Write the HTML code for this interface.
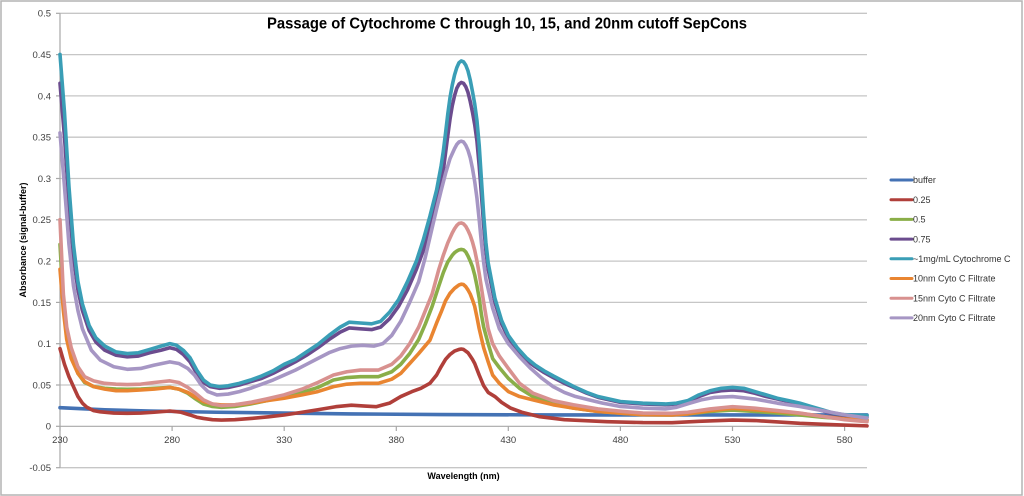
<!DOCTYPE html>
<html><head><meta charset="utf-8"><style>
html,body{margin:0;padding:0;background:#fff;}
svg{display:block;}
text{font-family:"Liberation Sans",Arial,sans-serif;}
</style></head><body>
<svg width="1024" height="496" viewBox="0 0 1024 496" xmlns="http://www.w3.org/2000/svg">
<rect x="0" y="0" width="1024" height="496" fill="#fff"/>
<rect x="1" y="1" width="1021" height="494" fill="none" stroke="#b4b4b4" stroke-width="1.5"/>

<!-- gridlines -->
<g stroke="#c6c6c6" stroke-width="1.3">
<line x1="60" y1="13.3" x2="867" y2="13.3"/>
<line x1="60" y1="54.6" x2="867" y2="54.6"/>
<line x1="60" y1="95.9" x2="867" y2="95.9"/>
<line x1="60" y1="137.2" x2="867" y2="137.2"/>
<line x1="60" y1="178.5" x2="867" y2="178.5"/>
<line x1="60" y1="219.8" x2="867" y2="219.8"/>
<line x1="60" y1="261.1" x2="867" y2="261.1"/>
<line x1="60" y1="302.4" x2="867" y2="302.4"/>
<line x1="60" y1="343.7" x2="867" y2="343.7"/>
<line x1="60" y1="385.0" x2="867" y2="385.0"/>
<line x1="60" y1="467.7" x2="867" y2="467.7"/>
</g>
<!-- axes -->
<g stroke="#a8a8a8" stroke-width="1.2">
<line x1="60" y1="13.3" x2="60" y2="467.7"/>
<line x1="60" y1="426.3" x2="867" y2="426.3"/>
<line x1="56" y1="13.3" x2="60" y2="13.3"/>
<line x1="56" y1="54.6" x2="60" y2="54.6"/>
<line x1="56" y1="95.9" x2="60" y2="95.9"/>
<line x1="56" y1="137.2" x2="60" y2="137.2"/>
<line x1="56" y1="178.5" x2="60" y2="178.5"/>
<line x1="56" y1="219.8" x2="60" y2="219.8"/>
<line x1="56" y1="261.1" x2="60" y2="261.1"/>
<line x1="56" y1="302.4" x2="60" y2="302.4"/>
<line x1="56" y1="343.7" x2="60" y2="343.7"/>
<line x1="56" y1="385.0" x2="60" y2="385.0"/>
<line x1="56" y1="426.3" x2="60" y2="426.3"/>
<line x1="56" y1="467.7" x2="60" y2="467.7"/>
<line x1="60" y1="426.3" x2="60" y2="431"/>
<line x1="172.1" y1="426.3" x2="172.1" y2="431"/>
<line x1="284.2" y1="426.3" x2="284.2" y2="431"/>
<line x1="396.3" y1="426.3" x2="396.3" y2="431"/>
<line x1="508.3" y1="426.3" x2="508.3" y2="431"/>
<line x1="620.4" y1="426.3" x2="620.4" y2="431"/>
<line x1="732.5" y1="426.3" x2="732.5" y2="431"/>
<line x1="844.6" y1="426.3" x2="844.6" y2="431"/>
</g>

<!-- y tick labels -->
<g font-size="9.5" fill="#404040" text-anchor="end">
<text x="51" y="16.7">0.5</text>
<text x="51" y="58">0.45</text>
<text x="51" y="99.3">0.4</text>
<text x="51" y="140.6">0.35</text>
<text x="51" y="181.9">0.3</text>
<text x="51" y="223.2">0.25</text>
<text x="51" y="264.5">0.2</text>
<text x="51" y="305.8">0.15</text>
<text x="51" y="347.1">0.1</text>
<text x="51" y="388.4">0.05</text>
<text x="51" y="429.7">0</text>
<text x="51" y="471.1">-0.05</text>
</g>
<!-- x tick labels -->
<g font-size="9.5" fill="#404040" text-anchor="middle">
<text x="60" y="443">230</text>
<text x="172.1" y="443">280</text>
<text x="284.2" y="443">330</text>
<text x="396.3" y="443">380</text>
<text x="508.3" y="443">430</text>
<text x="620.4" y="443">480</text>
<text x="732.5" y="443">530</text>
<text x="844.6" y="443">580</text>
</g>

<!-- titles -->
<text x="507" y="28.5" font-size="16" font-weight="bold" fill="#000" text-anchor="middle" textLength="480" lengthAdjust="spacingAndGlyphs">Passage of Cytochrome C through 10, 15, and 20nm cutoff SepCons</text>
<text x="463.5" y="479" font-size="9" font-weight="bold" fill="#000" text-anchor="middle">Wavelength (nm)</text>
<text transform="translate(26,240) rotate(-90)" font-size="9" font-weight="bold" fill="#000" text-anchor="middle">Absorbance (signal-buffer)</text>

<!-- series -->
<g transform="translate(60,426.3) scale(2.2417,-826.5) translate(-230,0)" fill="none" stroke-width="3.6" stroke-linejoin="round" stroke-linecap="round">
<polyline vector-effect="non-scaling-stroke" stroke="#4472B4" points="230,0.0225 250,0.020 270,0.0185 300,0.017 330,0.016 360,0.015 400,0.0142 450,0.0138 590,0.0137"/>
<polyline vector-effect="non-scaling-stroke" stroke="#B03F3A" points="230,0.094 232,0.075 234,0.06 236,0.048 238,0.036 240,0.028 242,0.023 245,0.019 248,0.0175 254,0.016 260,0.0157 266,0.016 272,0.017 279,0.0185 284,0.017 288,0.0137 291,0.011 294,0.0095 298,0.008 302,0.0076 308,0.008 316,0.0097 323,0.0115 330,0.0137 338,0.017 345,0.02 353,0.0237 360,0.0255 366,0.0245 371,0.0237 377,0.028 382,0.036 387,0.042 391,0.046 395,0.052 398,0.062 400,0.072 402,0.081 404,0.087 406,0.091 408,0.093 409,0.0935 410,0.093 412,0.089 413,0.085 414,0.081 415,0.076 417,0.062 419,0.049 421,0.041 424,0.036 427,0.029 431,0.022 436,0.017 444,0.0116 455,0.008 474,0.0056 490,0.0045 503,0.0044 515,0.006 530,0.0076 540,0.007 560,0.0036 575,0.002 590,0.0005"/>
<polyline vector-effect="non-scaling-stroke" stroke="#8AAE48" points="230,0.22 231.5,0.15 233,0.11 235,0.085 238,0.064 241,0.053 245,0.048 250,0.046 255,0.045 260,0.0448 266,0.045 272,0.046 279,0.047 283,0.045 287,0.040 290,0.034 294,0.027 298,0.024 302,0.023 308,0.024 315,0.027 322,0.031 330,0.036 338,0.041 345,0.047 352,0.056 358,0.059 364,0.06 372,0.06 378,0.066 382,0.075 386,0.088 390,0.105 393,0.124 396,0.145 399,0.170 401,0.186 403,0.199 405,0.207 406,0.210 407,0.212 408,0.2135 409,0.214 410,0.2135 411,0.211 412,0.206 413,0.2 414,0.193 415,0.183 416,0.17 417,0.155 418,0.135 419,0.12 421,0.1 423,0.082 426,0.071 430,0.058 435,0.046 441,0.036 450,0.027 459,0.022 470,0.018 481,0.0157 490,0.014 503,0.0137 510,0.015 520,0.018 530,0.0197 540,0.018 550,0.016 560,0.0137 570,0.011 580,0.009 590,0.0076"/>
<polyline vector-effect="non-scaling-stroke" stroke="#6B4C8E" points="230,0.415 232,0.35 234,0.27 236,0.205 238,0.165 240,0.14 243,0.116 246,0.102 250,0.092 255,0.086 260,0.084 265,0.085 270,0.089 275,0.092 279,0.095 282,0.093 285,0.087 288,0.078 291,0.064 294,0.053 297,0.048 301,0.046 305,0.047 310,0.050 315,0.054 320,0.058 325,0.064 330,0.071 335,0.078 340,0.086 345,0.095 350,0.105 355,0.114 359,0.119 364,0.118 369,0.117 373,0.120 377,0.130 381,0.145 385,0.165 389,0.19 392,0.212 395,0.24 398,0.27 401,0.31 403,0.352 404,0.372 405,0.388 406,0.4 407,0.409 408,0.414 409,0.416 410,0.415 411,0.411 412,0.404 413,0.393 414,0.38 415,0.365 416,0.345 417,0.315 418,0.28 419,0.243 420,0.212 421,0.19 424,0.15 427,0.124 430,0.107 434,0.092 438,0.080 442,0.072 446,0.065 450,0.059 455,0.052 460,0.046 465,0.040 470,0.035 475,0.032 480,0.029 490,0.027 500,0.026 505,0.027 510,0.030 515,0.036 520,0.041 525,0.043 530,0.044 535,0.043 540,0.040 545,0.036 550,0.033 555,0.030 560,0.027 565,0.023 570,0.019 575,0.015 580,0.013 590,0.011"/>
<polyline vector-effect="non-scaling-stroke" stroke="#3A9EB6" points="230,0.45 232,0.38 234,0.29 236,0.22 238,0.175 240,0.148 243,0.122 246,0.107 250,0.097 255,0.090 260,0.088 265,0.089 270,0.093 275,0.097 279,0.100 282,0.098 285,0.092 288,0.083 291,0.068 294,0.056 297,0.050 301,0.048 305,0.049 310,0.052 315,0.056 320,0.061 325,0.067 330,0.075 335,0.081 340,0.090 345,0.099 350,0.110 355,0.120 359,0.126 364,0.125 369,0.124 373,0.127 377,0.138 381,0.153 385,0.175 389,0.200 392,0.225 395,0.254 398,0.286 400,0.315 401,0.333 402,0.355 403,0.378 404,0.398 405,0.413 406,0.425 407,0.434 408,0.44 409,0.442 410,0.441 411,0.437 412,0.43 413,0.419 414,0.405 415,0.39 416,0.37 417,0.34 418,0.298 419,0.256 420,0.222 421,0.198 424,0.155 427,0.128 430,0.110 434,0.095 438,0.083 442,0.074 446,0.067 450,0.061 455,0.054 460,0.047 465,0.041 470,0.036 475,0.033 480,0.030 490,0.028 500,0.027 505,0.028 510,0.031 515,0.038 520,0.043 525,0.046 530,0.047 535,0.046 540,0.042 545,0.038 550,0.034 555,0.031 560,0.028 565,0.024 570,0.020 575,0.016 580,0.014 590,0.013"/>
<polyline vector-effect="non-scaling-stroke" stroke="#E98531" points="230,0.19 231.5,0.14 233,0.105 235,0.082 238,0.064 241,0.054 245,0.048 250,0.045 255,0.043 260,0.043 266,0.044 272,0.045 279,0.047 283,0.045 287,0.041 290,0.036 294,0.030 298,0.027 302,0.0258 308,0.026 315,0.028 322,0.031 330,0.034 338,0.038 345,0.042 352,0.048 358,0.051 364,0.052 372,0.052 378,0.057 382,0.064 386,0.076 390,0.088 395,0.104 398,0.125 400,0.138 402,0.152 404,0.161 406,0.167 407,0.169 408,0.171 409,0.172 410,0.1715 411,0.169 412,0.165 413,0.16 414,0.153 415,0.145 416,0.132 417,0.118 419,0.095 421,0.078 423,0.062 426,0.052 430,0.042 435,0.036 441,0.032 450,0.026 459,0.022 470,0.018 481,0.0157 490,0.014 503,0.0137 510,0.015 520,0.019 530,0.0218 540,0.02 550,0.018 560,0.0157 570,0.012 580,0.009 590,0.0076"/>
<polyline vector-effect="non-scaling-stroke" stroke="#D8918F" points="230,0.25 231.5,0.16 233,0.12 235,0.095 238,0.072 241,0.06 245,0.055 250,0.052 255,0.051 260,0.0505 266,0.051 272,0.053 279,0.055 283,0.053 287,0.047 290,0.041 294,0.032 298,0.027 302,0.025 308,0.026 315,0.029 322,0.033 330,0.038 338,0.045 345,0.053 352,0.062 358,0.066 364,0.068 372,0.068 378,0.075 382,0.085 386,0.100 390,0.120 393,0.14 396,0.16 399,0.19 401,0.207 403,0.222 405,0.234 406,0.239 407,0.243 408,0.2455 409,0.246 410,0.245 411,0.242 412,0.237 413,0.231 414,0.223 415,0.213 416,0.2 417,0.185 419,0.15 421,0.118 423,0.1 426,0.085 430,0.07 435,0.052 441,0.040 450,0.031 459,0.026 470,0.021 481,0.018 490,0.016 503,0.0157 510,0.017 520,0.021 530,0.0237 540,0.022 550,0.019 560,0.016 570,0.012 580,0.008 590,0.0056"/>
<polyline vector-effect="non-scaling-stroke" stroke="#A696C4" points="230,0.355 232,0.29 234,0.22 236,0.17 238,0.14 240,0.118 244,0.092 248,0.080 254,0.072 260,0.069 266,0.070 272,0.074 279,0.078 283,0.076 287,0.070 290,0.062 293,0.050 296,0.042 300,0.038 305,0.039 310,0.042 315,0.046 320,0.051 325,0.056 330,0.062 335,0.068 340,0.075 345,0.082 350,0.089 355,0.094 360,0.097 365,0.098 370,0.097 374,0.100 378,0.110 382,0.127 386,0.15 390,0.175 393,0.205 396,0.24 398,0.263 400,0.285 402,0.306 404,0.324 406,0.336 407,0.341 408,0.344 409,0.345 410,0.344 411,0.34 412,0.334 413,0.325 414,0.312 415,0.296 416,0.276 417,0.25 418,0.222 419,0.198 420,0.178 423,0.143 426,0.118 430,0.100 435,0.084 440,0.070 445,0.058 450,0.048 455,0.041 460,0.036 466,0.032 472,0.028 480,0.024 490,0.022 500,0.021 505,0.023 511,0.028 516,0.032 522,0.035 530,0.036 540,0.033 550,0.028 560,0.024 570,0.019 580,0.014 590,0.010"/>
</g>

<!-- legend -->
<g stroke-width="3" stroke-linecap="round">
<line x1="891" y1="180" x2="912" y2="180" stroke="#4472B4"/>
<line x1="891" y1="199.7" x2="912" y2="199.7" stroke="#B03F3A"/>
<line x1="891" y1="219.4" x2="912" y2="219.4" stroke="#8AAE48"/>
<line x1="891" y1="239.1" x2="912" y2="239.1" stroke="#6B4C8E"/>
<line x1="891" y1="258.8" x2="912" y2="258.8" stroke="#3A9EB6"/>
<line x1="891" y1="278.5" x2="912" y2="278.5" stroke="#E98531"/>
<line x1="891" y1="298.2" x2="912" y2="298.2" stroke="#D8918F"/>
<line x1="891" y1="317.9" x2="912" y2="317.9" stroke="#A696C4"/>
</g>
<g font-size="9" fill="#333">
<text x="913" y="183.2">buffer</text>
<text x="913" y="202.9">0.25</text>
<text x="913" y="222.6">0.5</text>
<text x="913" y="242.3">0.75</text>
<text x="913" y="262">~1mg/mL Cytochrome C</text>
<text x="913" y="281.7">10nm Cyto C Filtrate</text>
<text x="913" y="301.4">15nm Cyto C Filtrate</text>
<text x="913" y="321.1">20nm Cyto C Filtrate</text>
</g>
</svg>
</body></html>
